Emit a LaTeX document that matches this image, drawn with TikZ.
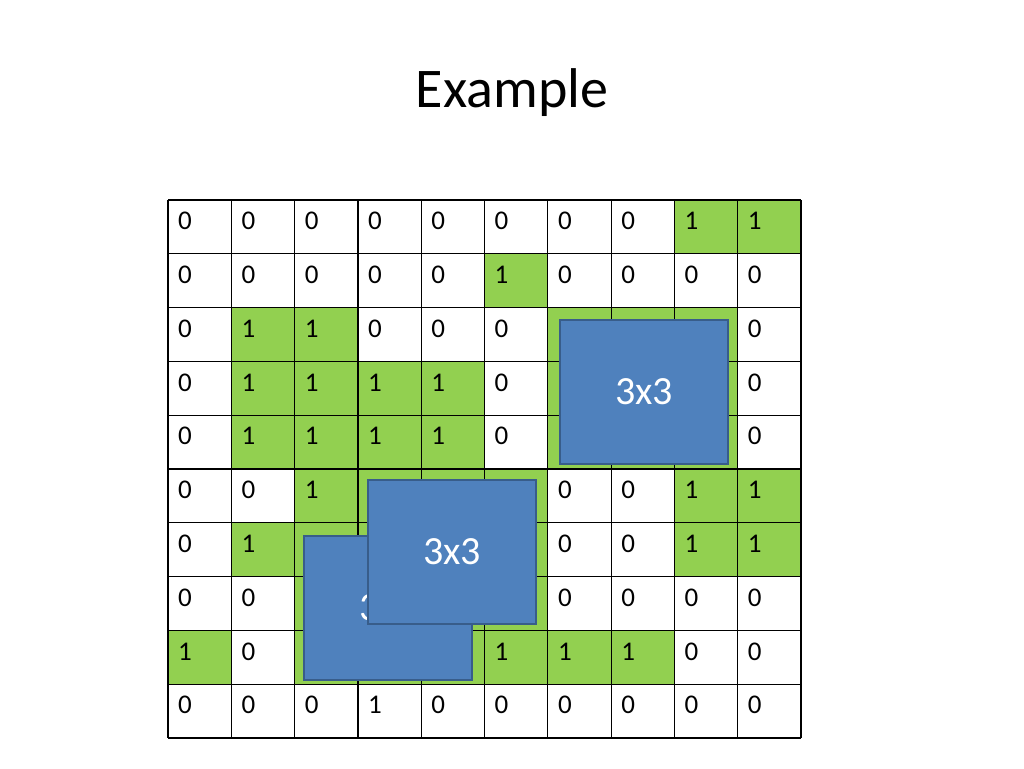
\documentclass[tikz,border=0pt]{standalone}
\usepackage{fontspec}
\setmainfont{Carlito}
\begin{document}
\begin{tikzpicture}[x=1pt,y=-1pt,
  win/.style={line width=1.8pt, fill=winblue, minimum width=168pt, minimum height=144pt, inner sep=0pt, font=\fontsize{40}{44}\selectfont, text=white},
  num/.style={anchor=west, font=\fontsize{27}{30}\selectfont, inner sep=0pt}]
\definecolor{winblue}{HTML}{4F81BD}
\definecolor{winedge}{HTML}{385D8A}
\definecolor{cellgreen}{HTML}{92D050}
\useasboundingbox (0,0) rectangle (1024,768);
\node[font=\fontsize{56}{60}\selectfont] (title) at (512,93) {Example};
\def\xs{{168,231.3,294.6,357.9,421.2,484.5,547.8,611.1,674.4,737.7,801}}
\def\ys{{200,253.8,307.6,361.4,415.2,469,522.8,576.6,630.4,684.2,738}}
% green cells
\foreach \r/\c in {0/8,0/9,1/5,2/1,2/2,2/6,2/7,2/8,3/1,3/2,3/3,3/4,3/6,3/7,3/8,4/1,4/2,4/3,4/4,4/6,4/7,4/8,
  5/2,5/3,5/4,5/5,5/8,5/9,6/1,6/2,6/3,6/4,6/5,6/8,6/9,7/2,7/3,7/4,7/5,8/0,8/2,8/3,8/4,8/5,8/6,8/7}{
  \pgfmathsetmacro\xa{\xs[\c]}\pgfmathsetmacro\xb{\xs[\c+1]}
  \pgfmathsetmacro\ya{\ys[\r]}\pgfmathsetmacro\yb{\ys[\r+1]}
  \fill[cellgreen] (\xa,\ya) rectangle (\xb,\yb);}
% grid
\foreach \i in {0,...,10}{
  \pgfmathsetmacro\xx{\xs[\i]}\pgfmathsetmacro\yy{\ys[\i]}
  \draw[line width=1.2pt] (\xx,200) -- (\xx,738);
  \draw[line width=1.2pt] (168,\yy) -- (801,\yy);}
% numbers (x = hidden under a window)
\foreach \row [count=\r from 0] in {
 {0,0,0,0,0,0,0,0,1,1},{0,0,0,0,0,1,0,0,0,0},{0,1,1,0,0,0,x,x,x,0},{0,1,1,1,1,0,x,x,x,0},
 {0,1,1,1,1,0,x,x,x,0},{0,0,1,x,x,x,0,0,1,1},{0,1,x,x,x,x,0,0,1,1},{0,0,x,x,x,x,0,0,0,0},
 {1,0,x,x,x,1,1,1,0,0},{0,0,0,1,0,0,0,0,0,0}}{
  \foreach \v [count=\c from 0] in \row {
    \if x\v\else
    \pgfmathsetmacro\xx{\xs[\c]+10}\pgfmathsetmacro\yy{\ys[\r]+21}
    \node[num] at (\xx,\yy) {\v};\fi}}
% windows
\node[win, draw=winedge] (w3) at (388,608) {3x3};
\node[win, draw=winedge] (w2) at (452,552) {3x3};
\node[win, draw=winedge] (w1) at (644,392) {3x3};
\end{tikzpicture}
\end{document}
